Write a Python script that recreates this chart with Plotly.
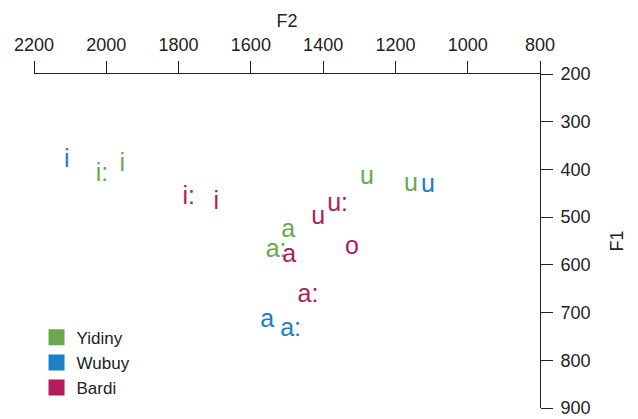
import plotly.graph_objects as go

# Vowel formant means (Hz) per language
yidiny_vowels = ["i", "i:", "u", "u", "a", "a:"]
yidiny_f2 = [1956, 2012, 1279, 1157, 1497, 1530]
yidiny_f1 = [390, 411, 417, 432, 528, 570]

wubuy_vowels = ["i", "u", "a", "a:"]
wubuy_f2 = [2109, 1110, 1555, 1490]
wubuy_f1 = [382, 434, 718, 735]

bardi_vowels = ["i:", "i", "u:", "u", "o", "a", "a:"]
bardi_f2 = [1772, 1696, 1360, 1414, 1320, 1494, 1442]
bardi_f1 = [459, 470, 474, 501, 564, 580, 664]

languages = ["Yidiny", "Wubuy", "Bardi"]
colors = ["#6aa84f", "#1b80c8", "#b01c5c"]

series = [
    (yidiny_vowels, yidiny_f2, yidiny_f1),
    (wubuy_vowels, wubuy_f2, wubuy_f1),
    (bardi_vowels, bardi_f2, bardi_f1),
]

fig = go.Figure()
for name, color, (labels, f2, f1) in zip(languages, colors, series):
    fig.add_trace(go.Scatter(
        x=f2, y=f1, mode="text", text=labels,
        textfont=dict(family="Liberation Sans, Arial", size=25, color=color),
        showlegend=False, hoverinfo="text",
    ))

# legend swatches
for name, color in zip(languages, colors):
    fig.add_trace(go.Scatter(
        x=[None], y=[None], mode="markers", name=name,
        marker=dict(symbol="square", size=17, color=color),
    ))

axis_font = dict(family="Liberation Sans, Arial", size=18, color="#222")

fig.update_layout(
    width=638, height=419,
    margin=dict(l=34, r=98, t=74, b=11, autoexpand=False),
    paper_bgcolor="white", plot_bgcolor="white",
    font=axis_font,
    xaxis=dict(
        side="top", range=[2200, 800], tickvals=[2200, 2000, 1800, 1600, 1400, 1200, 1000, 800],
        showgrid=False, zeroline=False, showline=True, linecolor="#222", linewidth=1,
        ticks="outside", ticklen=12, tickcolor="#222", tickfont=axis_font,
        ticklabelstandoff=3, automargin=False, ticklabeloverflow="allow",
        title=dict(text="F2", font=axis_font, standoff=2),
    ),
    yaxis=dict(
        side="right", range=[900, 200], tickvals=[200, 300, 400, 500, 600, 700, 800, 900],
        showgrid=False, zeroline=False, showline=True, linecolor="#222", linewidth=1,
        ticks="outside", ticklen=12, tickcolor="#222", tickfont=axis_font,
        ticklabelstandoff=4, automargin=False, ticklabeloverflow="allow",
        title=dict(text="F1", font=axis_font, standoff=20),
    ),
    legend=dict(
        x=0.005, y=0.264, xanchor="left", yanchor="top",
        bgcolor="rgba(0,0,0,0)", font=dict(family="Liberation Sans, Arial", size=17, color="#222"),
        itemwidth=30, tracegroupgap=0,
    ),
)

fig.write_html("out.html")
